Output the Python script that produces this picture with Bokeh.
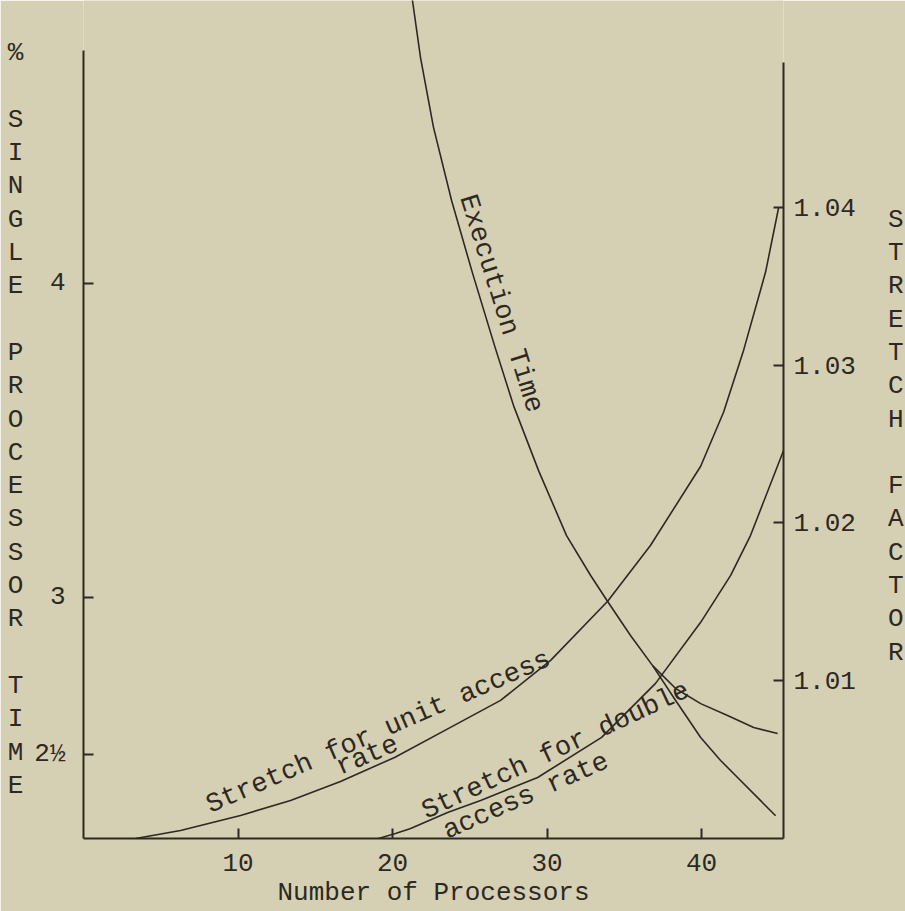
from bokeh.plotting import figure
from bokeh.models import Range1d, LinearAxis, FixedTicker, Label
from bokeh.embed import file_html
from bokeh.resources import INLINE

# ---------------- data ----------------
# Execution time, % of single processor time (left axis)
exec_common_x = [20.84, 21.29, 21.81, 22.65, 23.82, 25.18, 26.60, 27.83, 29.45,
                 31.26, 32.82, 33.92, 35.40, 36.83]
exec_common_v = [4.997, 4.901, 4.719, 4.497, 4.264, 4.032, 3.802, 3.611, 3.404,
                 3.197, 3.070, 2.987, 2.879, 2.783]
exec_a_x = [36.83, 38.32, 39.94, 41.68, 43.37, 44.92]
exec_a_v = [2.783, 2.710, 2.662, 2.624, 2.586, 2.567]
exec_b_x = [36.83, 38.32, 39.94, 41.23, 42.52, 43.82, 44.79]
exec_b_v = [2.783, 2.672, 2.554, 2.481, 2.417, 2.353, 2.305]

# Stretch factor (right axis)
unit_x = [3.37, 6.28, 10.16, 13.40, 16.63, 20.13, 23.75, 26.99, 30.23, 33.92,
          36.70, 39.94, 41.42, 42.72, 44.14, 44.98]
unit_s = [1.0000, 1.000507, 1.001458, 1.00241, 1.003614, 1.005136, 1.007039,
          1.008751, 1.011287, 1.015029, 1.01858, 1.02359, 1.02701, 1.030945,
          1.035891, 1.03995]
double_x = [19.09, 20.19, 21.17, 23.56, 25.70, 29.39, 33.53, 37.02, 39.94,
            41.88, 43.17, 45.31]
double_s = [1.0000, 1.000317, 1.000634, 1.001649, 1.00241, 1.003868, 1.006405,
            1.009829, 1.013697, 1.016677, 1.019214, 1.024604]

x_ticks = [10, 20, 30, 40]
x_tick_labels = ["10", "20", "30", "40"]
left_ticks = [2.5, 3, 4]
left_tick_labels = ["2½", "3", "4"]
right_ticks = [1.01, 1.02, 1.03, 1.04]
right_tick_labels = ["1.01", "1.02", "1.03", "1.04"]

x_title = "Number of Processors"
left_title = ["%", "", "S", "I", "N", "G", "L", "E", "", "P", "R", "O", "C", "E",
              "S", "S", "O", "R", "", "T", "I", "M", "E"]
right_title = ["", "S", "T", "R", "E", "T", "C", "H", "", "F", "A", "C", "T", "O", "R"]

# ---------------- style ----------------
BG = "#d5d0b3"
INK = "#2e2823"
FONT = "Liberation Mono"
FS = "26px"

FRAME_L, FRAME_W, FRAME_H = 83, 700, 838
X_MIN, X_MAX = 0.0, 45.3
L_MIN, L_MAX = 2.2325, 4.901
R_MIN, R_MAX = 1.0, 1.0531

p = figure(frame_width=FRAME_W, frame_height=FRAME_H,
           min_border_left=FRAME_L, min_border_right=122,
           min_border_top=0, min_border_bottom=73,
           x_range=Range1d(X_MIN, X_MAX), y_range=Range1d(L_MIN, L_MAX),
           output_backend="svg", toolbar_location=None,
           background_fill_color=BG, border_fill_color=BG)
p.outline_line_color = None
p.grid.visible = False
p.extra_y_ranges = {"stretch": Range1d(R_MIN, R_MAX)}

def style_axis(ax):
    ax.axis_line_color = INK
    ax.axis_line_width = 2
    ax.major_tick_line_color = INK
    ax.major_tick_line_width = 2
    ax.major_tick_in = 10
    ax.major_tick_out = 0
    ax.minor_tick_line_color = None
    ax.major_label_text_font = FONT
    ax.major_label_text_font_size = FS
    ax.major_label_text_color = INK
    ax.axis_label_text_font = FONT
    ax.axis_label_text_font_size = FS
    ax.axis_label_text_color = INK
    ax.axis_label_text_font_style = "normal"

xa = p.xaxis[0]
style_axis(xa)
xa.ticker = FixedTicker(ticks=x_ticks)
xa.major_label_overrides = {t: s for t, s in zip(x_ticks, x_tick_labels)}
xa.axis_label = x_title
xa.major_label_standoff = 15
xa.axis_label_standoff = 4

ya = p.yaxis[0]
style_axis(ya)
ya.ticker = FixedTicker(ticks=left_ticks)
ya.major_label_overrides = {t: s for t, s in zip(left_ticks, left_tick_labels)}
ya.major_label_standoff = 18
ya.bounds = (L_MIN, 4.742)
ya.axis_label = "\n".join(left_title)
ya.axis_label_orientation = "horizontal"
ya.axis_label_text_align = "center"
ya.axis_label_text_line_height = 1.11
ya.axis_label_standoff = 8

ra = LinearAxis(y_range_name="stretch")
style_axis(ra)
ra.ticker = FixedTicker(ticks=right_ticks)
ra.major_label_overrides = {t: s for t, s in zip(right_ticks, right_tick_labels)}
ra.major_label_standoff = 10
ra.bounds = (R_MIN, 1.0492)
ra.axis_label = "\n".join(right_title)
ra.axis_label_orientation = "horizontal"
ra.axis_label_text_align = "center"
ra.axis_label_text_line_height = 1.11
ra.axis_label_standoff = 29
p.add_layout(ra, "right")

lw = 1.6
p.line(exec_common_x, exec_common_v, line_color=INK, line_width=lw, line_join="round")
p.line(exec_a_x, exec_a_v, line_color=INK, line_width=lw, line_join="round")
p.line(exec_b_x, exec_b_v, line_color=INK, line_width=lw, line_join="round")
p.line(unit_x, unit_s, line_color=INK, line_width=lw, line_join="round",
       y_range_name="stretch")
p.line(double_x, double_s, line_color=INK, line_width=lw, line_join="round",
       y_range_name="stretch")

def lab(x, y, text, angle=0, align="left", baseline="alphabetic", size="27px"):
    p.add_layout(Label(x=x, y=y, text=text, angle=angle, angle_units="deg",
                       text_align=align, text_baseline=baseline,
                       text_font=FONT, text_font_size=size, text_color=INK))

# curve labels
lab(8.03, 2.334, "Stretch for unit access", angle=23.5)
lab(16.44, 2.455, "rate", angle=23)
lab(22.01, 2.315, "Stretch for double", angle=25)
lab(23.37, 2.251, "access rate", angle=24)
lab(24.79, 4.280, "Execution Time", angle=-72.5)

open("out.html", "w").write(file_html(p, INLINE))
